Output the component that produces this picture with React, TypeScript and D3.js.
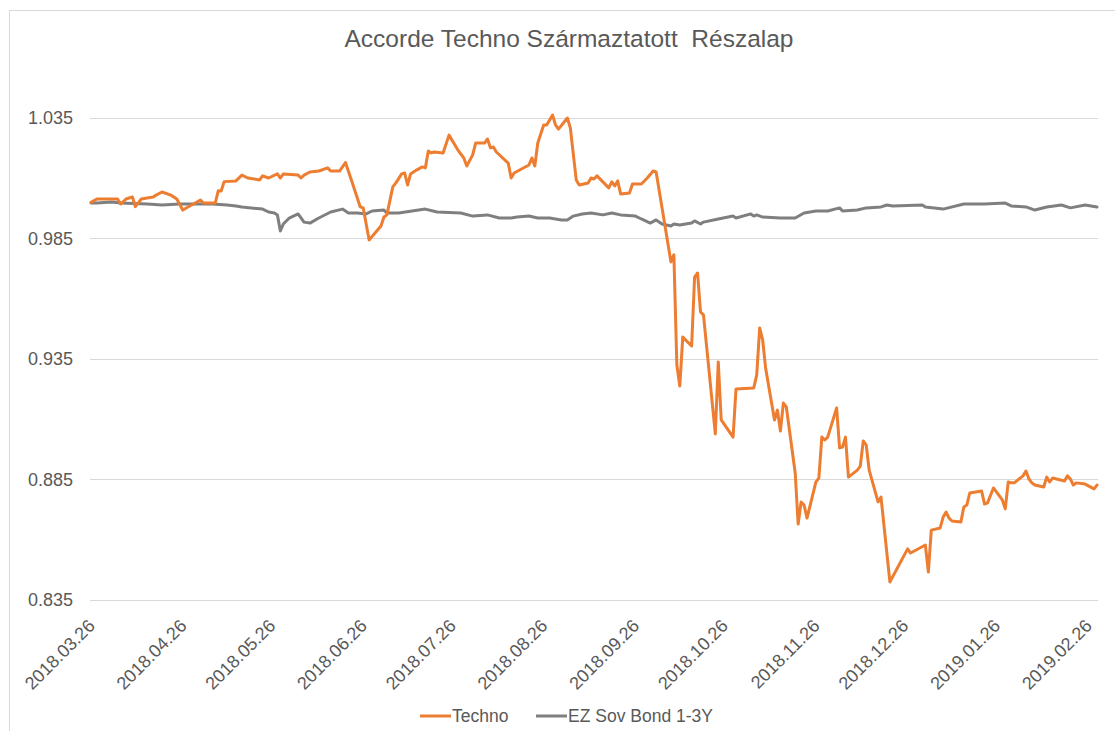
import React from "react";
import * as d3 from "d3";

const title = "Accorde Techno Származtatott  Részalap";
const seriesNames = ["Techno", "EZ Sov Bond 1-3Y"];
const seriesColors = ["#ED7D31", "#7F7F7F"];
const yTicks = [0.835, 0.885, 0.935, 0.985, 1.035];
const xTickLabels = [
  "2018-03-26", "2018-04-26", "2018-05-26", "2018-06-26", "2018-07-26", "2018-08-26",
  "2018-09-26", "2018-10-26", "2018-11-26", "2018-12-26", "2019-01-26", "2019-02-26",
];
const dateRange = ["2018-03-26", "2019-03-01"];

const techno: [string, number][] = [
  ["2018-03-26", 1.0], ["2018-03-28", 1.0014], ["2018-04-04", 1.0014], ["2018-04-05", 0.9993],
  ["2018-04-07", 1.0015], ["2018-04-09", 1.0022], ["2018-04-10", 0.9982], ["2018-04-12", 1.0014],
  ["2018-04-16", 1.0022], ["2018-04-17", 1.003], ["2018-04-19", 1.0043], ["2018-04-22", 1.003],
  ["2018-04-24", 1.0014], ["2018-04-26", 0.9968], ["2018-04-29", 0.9989], ["2018-05-02", 1.001],
  ["2018-05-03", 0.9997], ["2018-05-07", 0.9997], ["2018-05-08", 1.0048], ["2018-05-09", 1.0047],
  ["2018-05-10", 1.0086], ["2018-05-14", 1.0089], ["2018-05-16", 1.0113], ["2018-05-18", 1.0101],
  ["2018-05-22", 1.0093], ["2018-05-23", 1.011], ["2018-05-25", 1.0101], ["2018-05-28", 1.0118],
  ["2018-05-29", 1.0101], ["2018-05-30", 1.0118], ["2018-06-04", 1.0113], ["2018-06-05", 1.0101],
  ["2018-06-06", 1.0113], ["2018-06-08", 1.0126], ["2018-06-11", 1.013], ["2018-06-14", 1.0143],
  ["2018-06-15", 1.013], ["2018-06-18", 1.013], ["2018-06-20", 1.0165], ["2018-06-22", 1.0093],
  ["2018-06-25", 0.9981], ["2018-06-26", 0.9977], ["2018-06-28", 0.9844], ["2018-07-02", 0.9902],
  ["2018-07-03", 0.9939], ["2018-07-04", 0.9948], ["2018-07-06", 1.0064], ["2018-07-07", 1.008],
  ["2018-07-09", 1.0118], ["2018-07-10", 1.0122], ["2018-07-11", 1.0072], ["2018-07-12", 1.0118],
  ["2018-07-14", 1.0134], ["2018-07-16", 1.0147], ["2018-07-17", 1.0143], ["2018-07-18", 1.0213],
  ["2018-07-19", 1.0205], ["2018-07-20", 1.0209], ["2018-07-23", 1.0205], ["2018-07-25", 1.0279],
  ["2018-07-28", 1.0217], ["2018-07-30", 1.0184], ["2018-07-31", 1.0151], ["2018-08-02", 1.0197],
  ["2018-08-03", 1.0246], ["2018-08-06", 1.0246], ["2018-08-07", 1.0263], ["2018-08-08", 1.0226],
  ["2018-08-09", 1.023], ["2018-08-10", 1.0209], ["2018-08-14", 1.0163], ["2018-08-15", 1.0101],
  ["2018-08-16", 1.0122], ["2018-08-21", 1.0155], ["2018-08-22", 1.0184], ["2018-08-23", 1.0151],
  ["2018-08-24", 1.0246], ["2018-08-26", 1.0321], ["2018-08-27", 1.0321], ["2018-08-29", 1.0362],
  ["2018-08-30", 1.0321], ["2018-08-31", 1.0304], ["2018-09-03", 1.035], ["2018-09-04", 1.0309],
  ["2018-09-06", 1.0093], ["2018-09-07", 1.0072], ["2018-09-10", 1.008], ["2018-09-11", 1.0101],
  ["2018-09-12", 1.0097], ["2018-09-13", 1.011], ["2018-09-17", 1.006], ["2018-09-18", 1.0085],
  ["2018-09-19", 1.0068], ["2018-09-20", 1.0089], ["2018-09-21", 1.0035], ["2018-09-24", 1.0039],
  ["2018-09-25", 1.0076], ["2018-09-28", 1.0076], ["2018-09-30", 1.0101], ["2018-10-02", 1.013],
  ["2018-10-03", 1.0126], ["2018-10-08", 0.9753], ["2018-10-09", 0.9782], ["2018-10-10", 0.9325],
  ["2018-10-11", 0.9238], ["2018-10-12", 0.9441], ["2018-10-15", 0.9404], ["2018-10-16", 0.969],
  ["2018-10-17", 0.9707], ["2018-10-18", 0.9545], ["2018-10-19", 0.9533], ["2018-10-23", 0.9039],
  ["2018-10-24", 0.9338], ["2018-10-25", 0.9097], ["2018-10-29", 0.9026], ["2018-10-30", 0.9226],
  ["2018-11-05", 0.923], ["2018-11-06", 0.9284], ["2018-11-07", 0.9479], ["2018-11-08", 0.9429],
  ["2018-11-09", 0.9313], ["2018-11-12", 0.9097], ["2018-11-13", 0.9138], ["2018-11-14", 0.9051],
  ["2018-11-15", 0.9167], ["2018-11-16", 0.9151], ["2018-11-19", 0.8877], ["2018-11-20", 0.8665],
  ["2018-11-21", 0.8757], ["2018-11-22", 0.8744], ["2018-11-23", 0.869], ["2018-11-26", 0.884],
  ["2018-11-27", 0.8856], ["2018-11-28", 0.9026], ["2018-11-29", 0.9014], ["2018-11-30", 0.9026],
  ["2018-12-03", 0.9147], ["2018-12-04", 0.8981], ["2018-12-05", 0.8985], ["2018-12-06", 0.9026],
  ["2018-12-07", 0.886], ["2018-12-10", 0.8889], ["2018-12-11", 0.8906], ["2018-12-12", 0.901],
  ["2018-12-13", 0.8993], ["2018-12-14", 0.8889], ["2018-12-17", 0.8757], ["2018-12-18", 0.8777],
  ["2018-12-21", 0.8425], ["2018-12-27", 0.8562], ["2018-12-28", 0.8545], ["2019-01-02", 0.8578],
  ["2019-01-03", 0.8466], ["2019-01-04", 0.864], ["2019-01-07", 0.8649], ["2019-01-08", 0.8694],
  ["2019-01-09", 0.8715], ["2019-01-10", 0.869], ["2019-01-11", 0.8678], ["2019-01-14", 0.8674],
  ["2019-01-15", 0.8736], ["2019-01-16", 0.8744], ["2019-01-17", 0.8794], ["2019-01-21", 0.8802],
  ["2019-01-22", 0.8748], ["2019-01-23", 0.8753], ["2019-01-25", 0.8815], ["2019-01-28", 0.8765],
  ["2019-01-29", 0.8728], ["2019-01-30", 0.884], ["2019-01-31", 0.8836], ["2019-02-01", 0.8836],
  ["2019-02-04", 0.8865], ["2019-02-05", 0.8885], ["2019-02-06", 0.8852], ["2019-02-07", 0.8836],
  ["2019-02-08", 0.8827], ["2019-02-11", 0.8819], ["2019-02-12", 0.886], ["2019-02-13", 0.884],
  ["2019-02-14", 0.8856], ["2019-02-18", 0.8844], ["2019-02-19", 0.8865], ["2019-02-20", 0.8852],
  ["2019-02-21", 0.8827], ["2019-02-22", 0.8836], ["2019-02-25", 0.8831], ["2019-02-28", 0.8811],
  ["2019-03-01", 0.8827],
];

const ezSovBond: [string, number][] = [
  ["2018-03-26", 0.9997], ["2018-03-28", 0.9997], ["2018-04-02", 1.0001], ["2018-04-05", 0.9997],
  ["2018-04-14", 0.9993], ["2018-04-19", 0.9989], ["2018-04-25", 0.9993], ["2018-05-06", 0.9993],
  ["2018-05-11", 0.9989], ["2018-05-14", 0.9985], ["2018-05-16", 0.9981], ["2018-05-23", 0.9972],
  ["2018-05-25", 0.996], ["2018-05-27", 0.9956], ["2018-05-28", 0.9948], ["2018-05-29", 0.9881],
  ["2018-05-30", 0.991], ["2018-06-01", 0.9935], ["2018-06-04", 0.9952], ["2018-06-06", 0.9918],
  ["2018-06-08", 0.9914], ["2018-06-11", 0.9935], ["2018-06-15", 0.996], ["2018-06-19", 0.9972],
  ["2018-06-21", 0.9956], ["2018-06-24", 0.9956], ["2018-06-27", 0.9952], ["2018-06-29", 0.9964],
  ["2018-07-03", 0.9968], ["2018-07-04", 0.9956], ["2018-07-08", 0.9956], ["2018-07-17", 0.9972],
  ["2018-07-21", 0.996], ["2018-07-29", 0.9956], ["2018-08-02", 0.9943], ["2018-08-07", 0.9948],
  ["2018-08-11", 0.9935], ["2018-08-15", 0.9935], ["2018-08-17", 0.9939], ["2018-08-21", 0.9943],
  ["2018-08-24", 0.9935], ["2018-08-28", 0.9935], ["2018-09-01", 0.9927], ["2018-09-03", 0.9927],
  ["2018-09-05", 0.9943], ["2018-09-08", 0.9952], ["2018-09-11", 0.9956], ["2018-09-15", 0.9948],
  ["2018-09-18", 0.9956], ["2018-09-21", 0.9948], ["2018-09-26", 0.9943], ["2018-09-28", 0.9931],
  ["2018-10-01", 0.9914], ["2018-10-03", 0.9927], ["2018-10-05", 0.991], ["2018-10-08", 0.9902],
  ["2018-10-09", 0.991], ["2018-10-11", 0.9906], ["2018-10-15", 0.9914], ["2018-10-16", 0.9923],
  ["2018-10-18", 0.991], ["2018-10-19", 0.9918], ["2018-10-24", 0.9931], ["2018-10-29", 0.9943],
  ["2018-10-30", 0.9935], ["2018-11-04", 0.9952], ["2018-11-05", 0.9943], ["2018-11-06", 0.9948],
  ["2018-11-08", 0.9939], ["2018-11-14", 0.9935], ["2018-11-19", 0.9935], ["2018-11-22", 0.9956],
  ["2018-11-26", 0.9964], ["2018-11-30", 0.9964], ["2018-12-04", 0.9977], ["2018-12-05", 0.9964],
  ["2018-12-10", 0.9968], ["2018-12-13", 0.9977], ["2018-12-18", 0.9981], ["2018-12-20", 0.9989],
  ["2018-12-22", 0.9985], ["2019-01-01", 0.9989], ["2019-01-02", 0.9981], ["2019-01-08", 0.9972],
  ["2019-01-15", 0.9993], ["2019-01-22", 0.9993], ["2019-01-29", 0.9997], ["2019-01-31", 0.9985],
  ["2019-02-05", 0.9981], ["2019-02-08", 0.9968], ["2019-02-12", 0.9981], ["2019-02-17", 0.9989],
  ["2019-02-20", 0.9977], ["2019-02-25", 0.9989], ["2019-03-01", 0.9981],
];

const parse = d3.timeParse("%Y-%m-%d");
const fmtTick = d3.timeFormat("%Y.%m.%d");
const font = "'Liberation Sans', Arial, Helvetica, sans-serif";
const textColor = "#595959";

const W = 1115;
const H = 731;

const App: React.FC = () => {
  const x = d3
    .scaleTime()
    .domain(dateRange.map(d => parse(d) as Date))
    .range([91, 1097]);
  const y = d3.scaleLinear().domain([0.835, 1.035]).range([600, 118]);

  const line = d3
    .line<[string, number]>()
    .x(d => x(parse(d[0]) as Date))
    .y(d => y(d[1]));

  const series = [techno, ezSovBond];

  return (
    <div style={{ position: "fixed", left: 0, top: 0 }}>
      <svg width={W} height={H} style={{ display: "block", background: "#fff", fontFamily: font }}>
        <rect x={9.5} y={10.5} width={W + 20} height={H + 20} fill="#fff" stroke="#d9d9d9" strokeWidth={1} />

        <text x={569} y={47} textAnchor="middle" fontSize={24.5} fill={textColor} style={{ whiteSpace: "pre" }}>
          {title}
        </text>

        {yTicks.map(t => (
          <g key={t}>
            <line x1={90} x2={1098} y1={Math.round(y(t)) + 0.5} y2={Math.round(y(t)) + 0.5} stroke="#d9d9d9" strokeWidth={1} />
            <text x={73} y={y(t)} dy="0.35em" textAnchor="end" fontSize={18} fill={textColor}>
              {d3.format(".3f")(t)}
            </text>
          </g>
        ))}

        {xTickLabels.map(d => {
          const px = x(parse(d) as Date) + 5;
          const py = 627;
          return (
            <text
              key={d}
              x={px}
              y={py}
              textAnchor="end"
              fontSize={18}
              fill={textColor}
              transform={`rotate(-45 ${px} ${py})`}
            >
              {fmtTick(parse(d) as Date)}
            </text>
          );
        })}

        {series.map((s, i) => (
          <path
            key={seriesNames[i]}
            d={line(s) || ""}
            fill="none"
            stroke={seriesColors[i]}
            strokeWidth={3}
            strokeLinejoin="round"
            strokeLinecap="round"
          />
        )).reverse()}

        <g fontSize={17.5} fill={textColor}>
          <line x1={420} x2={451} y1={716} y2={716} stroke={seriesColors[0]} strokeWidth={3} />
          <text x={452} y={716} dy="0.35em">{seriesNames[0]}</text>
          <line x1={536} x2={567} y1={716} y2={716} stroke={seriesColors[1]} strokeWidth={3} />
          <text x={568} y={716} dy="0.35em">{seriesNames[1]}</text>
        </g>
      </svg>
    </div>
  );
};

export default App;
